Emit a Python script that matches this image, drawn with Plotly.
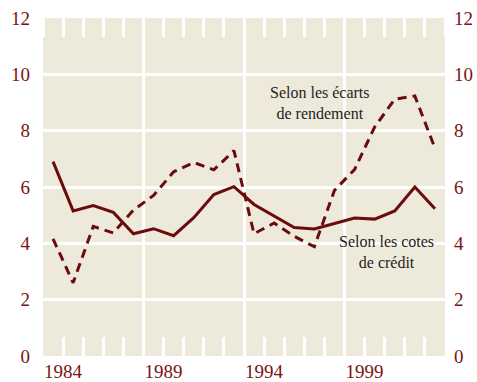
import plotly.graph_objects as go

# Annual observations, plotted at mid-year
years = [1983.5 + i for i in range(20)]

# Selon les cotes de crédit (solid)
cotes = [6.90, 5.15, 5.34, 5.10, 4.34, 4.52, 4.27, 4.91, 5.73, 6.01,
         5.38, 4.96, 4.56, 4.51, 4.71, 4.90, 4.86, 5.15, 6.00, 5.23]

# Selon les écarts de rendement (dashed)
ecarts = [4.16, 2.60, 4.60, 4.37, 5.18, 5.70, 6.54, 6.87, 6.61, 7.29,
          4.34, 4.72, 4.25, 3.88, 5.88, 6.62, 8.13, 9.12, 9.23, 7.38]

label_years = [1984, 1989, 1994, 1999]
grid_years = [1988, 1993, 1998]
y_ticks = [0, 2, 4, 6, 8, 10, 12]

LINE = "#6b0b0c"
LABEL = "#7a1315"
BG = "#eeeadb"
FONT = "Liberation Serif"

fig = go.Figure()
# dashed series on the main (top-ticked, gridded) x axis
fig.add_trace(go.Scatter(x=years, y=ecarts, mode="lines",
                         line=dict(color=LINE, width=3, dash="9px,6px"),
                         xaxis="x", yaxis="y",
                         showlegend=False, hoverinfo="skip"))
# solid series on the labelled bottom axis and right-hand axis
fig.add_trace(go.Scatter(x=years, y=cotes, mode="lines",
                         line=dict(color=LINE, width=3),
                         xaxis="x2", yaxis="y2",
                         showlegend=False, hoverinfo="skip"))

tickfont = dict(family=FONT, size=19, color=LABEL)
yr_ticks = dict(tick0=1983, dtick=1, ticks="inside", ticklen=19,
                tickwidth=3, tickcolor="white", showgrid=False)

fig.update_layout(
    width=477, height=382,
    margin=dict(l=43, r=32, t=18, b=26, autoexpand=False),
    paper_bgcolor="white",
    plot_bgcolor=BG,
    xaxis=dict(
        range=[1983, 2003], side="top", tickvals=grid_years, ticks="",
        showticklabels=False, showgrid=True, gridcolor="white", gridwidth=3,
        zeroline=False, showline=False, minor=yr_ticks, automargin=False,
    ),
    xaxis2=dict(
        range=[1983, 2003], overlaying="x", anchor="y2", side="bottom",
        tickvals=label_years, ticktext=[str(v) for v in label_years],
        ticks="inside", ticklen=19, tickwidth=3, tickcolor="white",
        showgrid=False, zeroline=False, showline=False, automargin=False,
        tickfont=tickfont, ticklabelstandoff=2, minor=yr_ticks,
    ),
    yaxis=dict(
        range=[0, 12], tickvals=y_ticks, ticks="", showgrid=True,
        gridcolor="white", gridwidth=3, zeroline=False, showline=False,
        tickfont=tickfont, ticklabelstandoff=12, automargin=False,
    ),
    yaxis2=dict(
        range=[0, 12], overlaying="y", anchor="x2", side="right",
        tickvals=y_ticks, ticks="", showgrid=False, zeroline=False,
        showline=False, tickfont=tickfont, ticklabelstandoff=8,
        automargin=False,
    ),
    annotations=[
        dict(x=1996.78, y=8.98, xref="x", yref="y",
             text="Selon les écarts<br>de rendement", showarrow=False,
             font=dict(family=FONT, size=16, color="#1e1e1e"), align="center"),
        dict(x=2000.1, y=3.71, xref="x", yref="y",
             text="Selon les cotes<br>de crédit", showarrow=False,
             font=dict(family=FONT, size=16, color="#1e1e1e"), align="center"),
    ],
)

fig.write_html("out.html")
